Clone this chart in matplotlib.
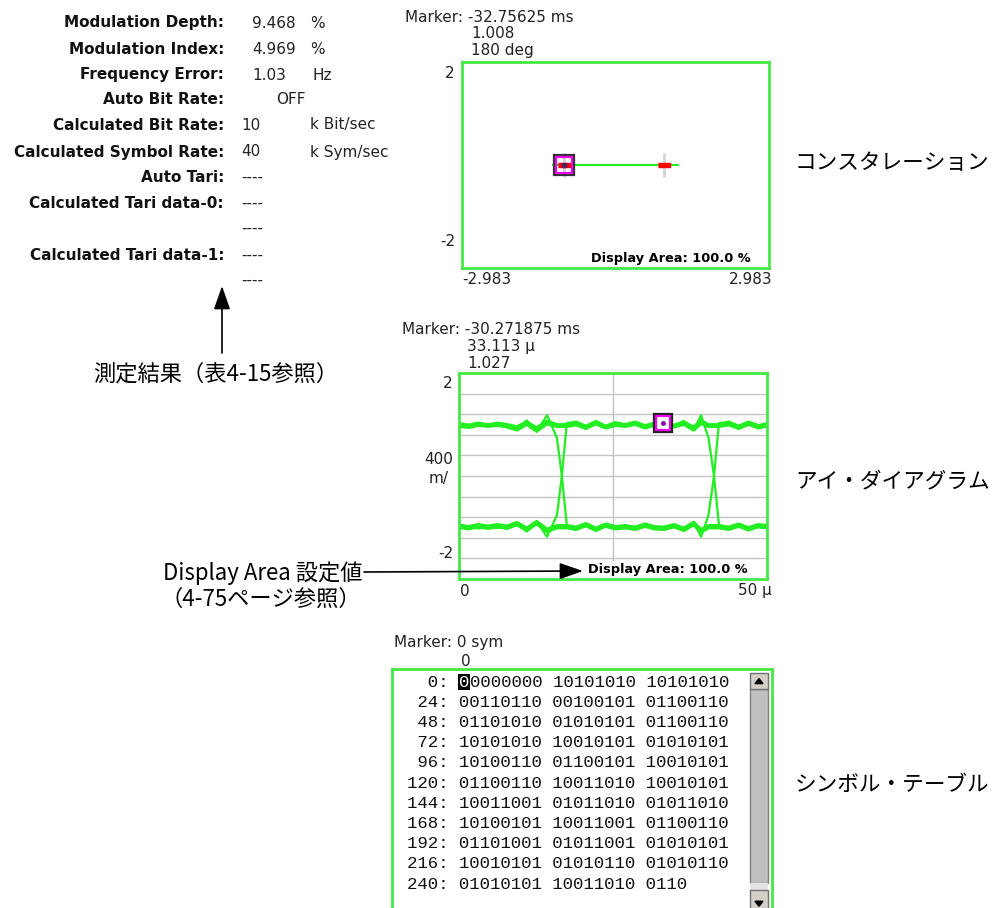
import matplotlib.pyplot as plt
from matplotlib.patches import Rectangle, Polygon

plt.rcParams['font.family'] = ['DejaVu Sans', 'Noto Sans CJK JP']

JP = ['Noto Sans CJK JP', 'DejaVu Sans']
GREEN = '#22ee22'
BOX = '#44e844'
GRID = '#c4c4c4'

# measurement results panel
meas_labels = ['Modulation Depth:', 'Modulation Index:', 'Frequency Error:', 'Auto Bit Rate:',
               'Calculated Bit Rate:', 'Calculated Symbol Rate:', 'Auto Tari:',
               'Calculated Tari data-0:', '', 'Calculated Tari data-1:', '']
meas_values = ['9.468', '4.969', '1.03', 'OFF', '10', '40', '----', '----', '----', '----', '----']
meas_units = ['%', '%', 'Hz', '', 'k Bit/sec', 'k Sym/sec', '', '', '', '', '']

# constellation
const_marker = ['Marker: -32.75625 ms', '1.008', '180 deg']
const_traj_i = [-1.22, 1.21]
const_traj_q = [0.0, 0.0]
const_sym_i = [-1.008, 0.95]
const_sym_q = [0.0, 0.0]
const_xrange = 2.983

# eye diagram (time in us)
eye_marker = ['Marker: -30.271875 ms', '33.113 \u00b5', '1.027']
eye_mark_t, eye_mark_v = 33.113, 1.027
eye_t = [0.0, 1.6, 3.1, 4.7, 6.3, 7.8, 9.4, 11.0, 12.6, 14.3, 15.9, 16.7, 17.5, 19.0, 20.6,
         22.2, 23.8, 25.4, 27.0, 28.6, 30.2, 31.7, 33.3, 34.9, 36.5, 38.1, 39.3, 40.5, 41.4,
         42.2, 43.8, 45.4, 47.0, 48.6, 50.0]
eye_hh1 = [1.01, 0.98, 1.02, 0.99, 1.02, 0.99, 0.95, 1.04, 0.93, 1.06, 0.99, 0.99, 0.99, 1.04,
           0.96, 1.05, 0.96, 1.03, 0.99, 1.04, 0.97, 1.02, 1.02, 0.98, 1.04, 0.94, 1.07, 0.99,
           0.99, 0.99, 1.04, 0.96, 1.04, 0.97, 1.01]
eye_hh2 = [0.97, 0.95, 0.99, 0.97, 0.99, 0.96, 0.90, 1.01, 0.88, 1.02, 0.97, 0.97, 0.97, 1.00,
           0.93, 1.02, 0.94, 0.99, 0.97, 1.01, 0.94, 0.99, 0.99, 0.96, 1.01, 0.90, 1.03, 0.97,
           0.97, 0.97, 1.00, 0.93, 1.01, 0.94, 0.98]
eye_hl = [1.02, 0.99, 1.01, 0.97, 1.02, 1.00, 0.92, 1.08, 0.86, 1.18, 0.74, 0.00, -0.95, -1.04,
          -0.93, -1.05, -0.96, -1.02, -0.98, -1.03, -0.97, -1.01, -1.04, -0.96, -1.06, -0.89,
          -1.18, -0.76, 0.00, 1.03, 1.04, 0.96, 1.03, 0.98, 1.01]
eye_lh = [-1.01, -0.98, -1.02, -0.99, -1.01, -0.97, -0.91, -1.08, -0.88, -1.18, -0.76, 0.00,
          1.03, 1.05, 0.94, 1.06, 0.97, 1.01, 0.99, 1.02, 0.96, 1.02, 1.03, 0.97, 1.07, 0.89,
          1.18, 0.74, 0.00, -0.95, -1.03, -0.97, -1.02, -0.99, -1.00]
eye_ll1 = [-0.99, -1.02, -0.98, -1.01, -0.98, -1.01, -0.94, -1.05, -0.92, -1.07, -1.00, -1.00,
           -1.00, -1.03, -0.96, -1.05, -0.97, -1.02, -1.00, -1.03, -0.97, -1.02, -1.03, -0.98,
           -1.05, -0.94, -1.08, -1.00, -1.00, -1.00, -1.03, -0.97, -1.04, -0.98, -1.00]
eye_ll2 = [-0.96, -0.99, -0.95, -0.98, -0.95, -0.98, -0.91, -1.02, -0.89, -1.04, -0.97, -0.97,
           -0.97, -1.00, -0.93, -1.02, -0.94, -0.99, -0.97, -1.00, -0.94, -0.99, -1.00, -0.95,
           -1.02, -0.91, -1.05, -0.97, -0.97, -0.97, -1.00, -0.94, -1.01, -0.95, -0.97]
eye_flat = [eye_hh1, eye_hh2, eye_ll1, eye_ll2]
eye_edges = [eye_hl, eye_lh]

# symbol table
table_marker = ['Marker: 0 sym', '0']
symbol_index = [0, 24, 48, 72, 96, 120, 144, 168, 192, 216, 240]
symbol_bits = ['00000000 10101010 10101010', '00110110 00100101 01100110',
               '01101010 01010101 01100110', '10101010 10010101 01010101',
               '10100110 01100101 10010101', '01100110 10011010 10010101',
               '10011001 01011010 01011010', '10100101 10011001 01100110',
               '01101001 01011001 01010101', '10010101 01010110 01010110',
               '01010101 10011010 0110']

fig = plt.figure(figsize=(9.99, 9.08), dpi=100)
W, H = 999, 908


def box(x0, y0, x1, y1):
    return [x0 / W, 1 - y1 / H, (x1 - x0) / W, (y1 - y0) / H]


def style_box(ax):
    ax.set_xticks([])
    ax.set_yticks([])
    for s in ax.spines.values():
        s.set_color(BOX)
        s.set_linewidth(2)


# --- constellation
ax1 = fig.add_axes(box(462, 62, 769, 268))
ax1.plot(const_traj_i, const_traj_q, color=GREEN, lw=1.5, zorder=2)
ax1.plot(const_sym_i, const_sym_q, ls='none', marker='|', ms=17, mew=2, color='#d4d4d4', zorder=1)
rect_mk = [(-5, -1.8), (5, -1.8), (5, 1.8), (-5, 1.8)]
ax1.plot(const_sym_i, const_sym_q, ls='none', marker=rect_mk, ms=8, color='red', zorder=3)
ax1.plot(const_sym_i[0], const_sym_q[0], marker='s', ms=14, mfc='none', mec='#333333', mew=1.6, zorder=4)
ax1.plot(const_sym_i[0], const_sym_q[0], marker='s', ms=11, mfc='none', mec='#ee00ee', mew=1.6, zorder=4)
ax1.plot(const_sym_i[0], const_sym_q[0], marker='s', ms=3, color='#552266', zorder=5)
ax1.set_xlim(-const_xrange, const_xrange)
ax1.set_ylim(-2, 2)
style_box(ax1)
ax1.text(0.941, 0.045, 'Display Area: 100.0 %', transform=ax1.transAxes, ha='right', va='center',
         fontsize=9.3, fontweight='bold', bbox=dict(facecolor='white', edgecolor='none', pad=1.5))

# --- eye diagram
ax2 = fig.add_axes(box(459, 373, 767, 579))
for y in [-1.6, -1.2, -0.8, -0.4, 0, 0.4, 0.8, 1.2, 1.6]:
    ax2.axhline(y, color=GRID, lw=1, zorder=0)
ax2.axvline(25, color=GRID, lw=1, zorder=0)
for tr in eye_edges:
    ax2.plot(eye_t, tr, color=GREEN, lw=1.6, zorder=2)
for tr in eye_flat:
    ax2.plot(eye_t, tr, color=GREEN, lw=2.8, zorder=2)
ax2.plot(eye_mark_t, eye_mark_v, marker='s', ms=13, mfc='none', mec='#222222', mew=1.6, zorder=4)
ax2.plot(eye_mark_t, eye_mark_v, marker='s', ms=10, mfc='white', mec='#ee00ee', mew=1.6, zorder=4)
ax2.plot(eye_mark_t, eye_mark_v, marker='o', ms=2.5, color='#8800aa', zorder=5)
ax2.set_xlim(0, 50)
ax2.set_ylim(-2, 2)
style_box(ax2)
ax2.text(0.938, 0.045, 'Display Area: 100.0 %', transform=ax2.transAxes, ha='right', va='center',
         fontsize=9.3, fontweight='bold', bbox=dict(facecolor='white', edgecolor='none', pad=1.5),
         zorder=6)

# --- symbol table
ax3 = fig.add_axes(box(392, 669, 772, 908))
ax3.set_xlim(392, 772)
ax3.set_ylim(-0.644 + 11.83, -0.644)
style_box(ax3)
ax3.spines['bottom'].set_visible(False)
mono = dict(family='Liberation Mono', fontsize=12.5, va='center', ha='left', color='#111111')
cw = 0.6 * 12.5 / 72 * 100
for i, (idx, bits) in enumerate(zip(symbol_index, symbol_bits)):
    row = f'{idx:>3}: {bits}'
    if i == 0:
        # first symbol is highlighted (cursor)
        ax3.text(407, i, row[:5], **mono)
        ax3.text(407 + 5 * cw, i, row[5], **{**mono, 'color': 'white'},
                 bbox=dict(facecolor='black', edgecolor='none', pad=0.5))
        ax3.text(407 + 6 * cw, i, row[6:], **mono)
    else:
        ax3.text(407, i, row, **mono)
# scrollbar
ax3.add_patch(Rectangle((750, -0.644 + 20 / 20.2), 18, 194 / 20.2, facecolor='#c0c0c0',
                        edgecolor='#808080', lw=1))
ax3.add_patch(Rectangle((750, -0.644 + 4 / 20.2), 18, 16 / 20.2, facecolor='#d4d0c8',
                        edgecolor='#707070', lw=1))
ax3.add_patch(Polygon([(755, 0.08), (763, 0.08), (759, -0.17)], closed=True, color='black'))
ax3.add_patch(Rectangle((750, -0.644 + 214 / 20.2), 18, 7 / 20.2, facecolor='#e4e4e4',
                        edgecolor='none', hatch='....'))
ax3.add_patch(Rectangle((750, -0.644 + 221 / 20.2), 18, 20 / 20.2, facecolor='#d4d0c8',
                        edgecolor='#707070', lw=1))
ax3.add_patch(Polygon([(755, 10.85), (763, 10.85), (759, 11.1)], closed=True, color='black'))

# --- overlay for labels and arrows (figure pixel coordinates)
ov = fig.add_axes([0, 0, 1, 1], zorder=10)
ov.set_xlim(0, W)
ov.set_ylim(H, 0)
ov.axis('off')
ov.patch.set_alpha(0)

fs = 11
rows_y = [23, 49, 75, 100, 125, 152, 177, 203, 228, 255, 280]
val_x = [252, 252, 252, 276, 241, 241, 241, 241, 241, 241, 241]
unit_x = [310, 310, 312, 310, 310, 310, 310, 310, 310, 310, 310]
for y, lab, val, unit, vx, ux in zip(rows_y, meas_labels, meas_values, meas_units, val_x, unit_x):
    ov.text(224, y, lab, ha='right', va='center', fontsize=fs, fontweight='bold', color='#111111')
    ov.text(vx, y, val, ha='left', va='center', fontsize=fs, color='#222222')
    ov.text(ux, y, unit, ha='left', va='center', fontsize=fs, color='#222222')

# constellation labels
ov.text(405, 17, const_marker[0], fontsize=fs, va='center', color='#222222')
ov.text(471, 34, const_marker[1], fontsize=fs, va='center', color='#222222')
ov.text(471, 51, const_marker[2], fontsize=fs, va='center', color='#222222')
ov.text(455, 73, '2', fontsize=fs, ha='right', va='center', color='#222222')
ov.text(455, 242, '-2', fontsize=fs, ha='right', va='center', color='#222222')
ov.text(462, 279, f'-{const_xrange}', fontsize=fs, ha='left', va='center', color='#222222')
ov.text(773, 279, f'{const_xrange}', fontsize=fs, ha='right', va='center', color='#222222')

# eye labels
ov.text(402, 329, eye_marker[0], fontsize=fs, va='center', color='#222222')
ov.text(467, 347, eye_marker[1], fontsize=fs, va='center', color='#222222')
ov.text(467, 364, eye_marker[2], fontsize=fs, va='center', color='#222222')
ov.text(453, 384, '2', fontsize=fs, ha='right', va='center', color='#222222')
ov.text(453, 460, '400', fontsize=fs, ha='right', va='center', color='#222222')
ov.text(449, 478, 'm/', fontsize=fs, ha='right', va='center', color='#222222')
ov.text(453, 554, '-2', fontsize=fs, ha='right', va='center', color='#222222')
ov.text(460, 591, '0', fontsize=fs, ha='left', va='center', color='#222222')
ov.text(772, 591, '50 \u00b5', fontsize=fs, ha='right', va='center', color='#222222')

# table marker
ov.text(394, 643, table_marker[0], fontsize=fs, va='center', color='#222222')
ov.text(461, 661, table_marker[1], fontsize=fs, va='center', color='#222222')

# Japanese annotations
ov.text(795, 163, 'コンスタレーション', fontsize=15.6, family=JP, va='center')
ov.text(795, 481, 'アイ・ダイアグラム', fontsize=15.6, family=JP, va='center')
ov.text(795, 785, 'シンボル・テーブル', fontsize=15.6, family=JP, va='center')
ov.text(93, 374, '測定結果（表4-15参照）', fontsize=16, family=JP, va='center')
ov.text(163, 573, 'Display Area 設定値', fontsize=16, family=JP, va='center')
ov.text(160, 599, '（4-75ページ参照）', fontsize=16, family=JP, va='center')

arrow = dict(arrowstyle='-|>,head_length=0.8,head_width=0.28', color='black', lw=1.2,
             mutation_scale=18, shrinkA=0, shrinkB=0)
ov.annotate('', xy=(222, 286), xytext=(222, 353), arrowprops=arrow)
ov.annotate('', xy=(583, 571), xytext=(364, 572), arrowprops=arrow)

fig.savefig('out.png', dpi=100, facecolor='white')
